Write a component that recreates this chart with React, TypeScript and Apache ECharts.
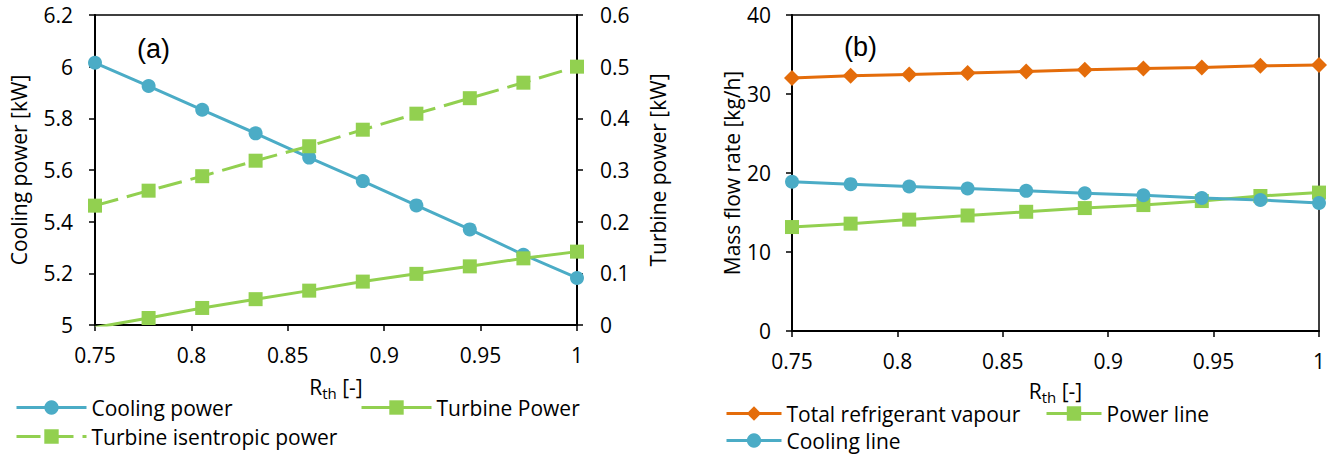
import React, { useEffect, useRef } from "react";
import * as echarts from "echarts";

const rthValues = [0.75, 0.7778, 0.8056, 0.8333, 0.8611, 0.8889, 0.9167, 0.9444, 0.9722, 1.0];
const coolingPower = [6.015, 5.925, 5.833, 5.742, 5.648, 5.557, 5.463, 5.37, 5.272, 5.182];
const turbinePower = [-0.005, 0.0135, 0.033, 0.05, 0.0665, 0.084, 0.099, 0.1135, 0.129, 0.142];
const turbineIsentropic = [0.231, 0.26, 0.288, 0.318, 0.346, 0.378, 0.409, 0.439, 0.469, 0.5];
const totalVapour = [32.02, 32.31, 32.48, 32.65, 32.86, 33.07, 33.24, 33.36, 33.57, 33.66];
const powerLine = [13.16, 13.59, 14.1, 14.62, 15.09, 15.56, 15.94, 16.45, 17.09, 17.52];
const coolingLine = [18.89, 18.59, 18.29, 18.03, 17.74, 17.44, 17.18, 16.84, 16.58, 16.2];

const BLUE = "#4BACC6";
const GREEN = "#92D050";
const ORANGE = "#E46C0A";
const FONT = "Open Sans";
const FS = 21;

const pairs = (ys: number[]) => rthValues.map((x, i) => [x, ys[i]]);

export default function App() {
  const ref = useRef<HTMLDivElement>(null);
  useEffect(() => {
    if (!ref.current) return;
    const chart = echarts.init(ref.current, null, { renderer: "svg" });
    const axisLine = { show: true, lineStyle: { color: "#000", width: 2 } };
    const axisTick = { show: true, length: 6, lineStyle: { color: "#000", width: 1.5 } };
    const label = (margin: number) => ({ margin, fontFamily: FONT, fontSize: FS, color: "#000" });
    const nameStyle = { fontFamily: FONT, fontSize: FS, color: "#000" };
    const xName = "{r|R}{s|th}{r| [-]}";
    const xNameStyle = {
      fontFamily: FONT,
      fontSize: FS,
      color: "#000",
      rich: {
        r: { fontFamily: FONT, fontSize: FS, color: "#000" },
        s: { fontFamily: FONT, fontSize: 15, color: "#000", padding: [11, 0, 0, 0] },
      },
    };
    const legendText = { fontFamily: FONT, fontSize: FS, color: "#000" };
    const lg = (name: string, left: number, top: number, w: number) => ({
      data: [name], left, top, itemWidth: w, itemHeight: 18, textStyle: legendText,
      lineStyle: { width: 3 },
    });

    chart.setOption({
      animation: false,
      backgroundColor: "#fff",
      grid: [
        { left: 95, top: 15, width: 482, height: 310, show: true, borderColor: "#000", borderWidth: 1.5, containLabel: false },
        { left: 792, top: 15, width: 527, height: 316, show: true, borderColor: "#000", borderWidth: 1.5, containLabel: false },
      ],
      xAxis: [
        {
          type: "value", gridIndex: 0, min: 0.75, max: 1, interval: 0.05,
          axisLine, axisTick, axisLabel: label(19), splitLine: { show: false },
          name: xName, nameLocation: "middle", nameGap: 49, nameTextStyle: xNameStyle,
        },
        {
          type: "value", gridIndex: 1, min: 0.75, max: 1, interval: 0.05,
          axisLine, axisTick, axisLabel: label(19), splitLine: { show: false },
          name: xName, nameLocation: "middle", nameGap: 47, nameTextStyle: xNameStyle,
        },
      ],
      yAxis: [
        {
          type: "value", gridIndex: 0, min: 5, max: 6.2, interval: 0.2, position: "left",
          axisLine, axisTick, axisLabel: label(22), splitLine: { show: false },
          name: "Cooling power [kW]", nameLocation: "middle", nameGap: 66, nameTextStyle: nameStyle,
        },
        {
          type: "value", gridIndex: 0, min: 0, max: 0.6, interval: 0.1, position: "right",
          axisLine, axisTick, axisLabel: label(23), splitLine: { show: false },
          name: "Turbine power [kW]", nameLocation: "middle", nameGap: 70, nameTextStyle: nameStyle,
        },
        {
          type: "value", gridIndex: 1, min: 0, max: 40, interval: 10, position: "left",
          axisLine, axisTick, axisLabel: label(21), splitLine: { show: false },
          name: "Mass flow rate [kg/h]", nameLocation: "middle", nameGap: 50, nameTextStyle: nameStyle,
        },
      ],
      legend: [
        lg("Cooling power", 10, 392, 70),
        lg("Turbine Power", 355, 392, 70),
        lg("Turbine isentropic power", 10, 421, 70),
        lg("Total refrigerant vapour", 720, 398, 55),
        lg("Power line", 1040, 398, 55),
        lg("Cooling line", 720, 425, 55),
      ],
      graphic: [
        { type: "text", left: 137, top: 35, style: { text: "(a)", fontFamily: "Liberation Sans", fontSize: 27, fill: "#000" } },
        { type: "text", left: 844, top: 33, style: { text: "(b)", fontFamily: "Liberation Sans", fontSize: 27, fill: "#000" } },
      ],
      series: [
        {
          name: "Cooling power", type: "line", xAxisIndex: 0, yAxisIndex: 0, data: pairs(coolingPower),
          symbol: "circle", symbolSize: 14, lineStyle: { color: BLUE, width: 3 }, itemStyle: { color: BLUE },
        },
        {
          name: "Turbine Power", type: "line", xAxisIndex: 0, yAxisIndex: 1, data: pairs(turbinePower),
          symbol: "rect", symbolSize: 14, lineStyle: { color: GREEN, width: 3 }, itemStyle: { color: GREEN }, clip: true,
        },
        {
          name: "Turbine isentropic power", type: "line", xAxisIndex: 0, yAxisIndex: 1, data: pairs(turbineIsentropic),
          symbol: "rect", symbolSize: 14, lineStyle: { color: GREEN, width: 3, type: [24, 9] }, itemStyle: { color: GREEN },
        },
        {
          name: "Total refrigerant vapour", type: "line", xAxisIndex: 1, yAxisIndex: 2, data: pairs(totalVapour),
          symbol: "diamond", symbolSize: 16, lineStyle: { color: ORANGE, width: 3 }, itemStyle: { color: ORANGE },
        },
        {
          name: "Power line", type: "line", xAxisIndex: 1, yAxisIndex: 2, data: pairs(powerLine),
          symbol: "rect", symbolSize: 14, lineStyle: { color: GREEN, width: 3 }, itemStyle: { color: GREEN },
        },
        {
          name: "Cooling line", type: "line", xAxisIndex: 1, yAxisIndex: 2, data: pairs(coolingLine),
          symbol: "circle", symbolSize: 14, lineStyle: { color: BLUE, width: 3 }, itemStyle: { color: BLUE },
        },
      ],
    });
    return () => chart.dispose();
  }, []);
  return (
    <div
      ref={ref}
      style={{ position: "fixed", left: 0, top: 0, width: 1340, height: 456, background: "#fff" }}
    />
  );
}
